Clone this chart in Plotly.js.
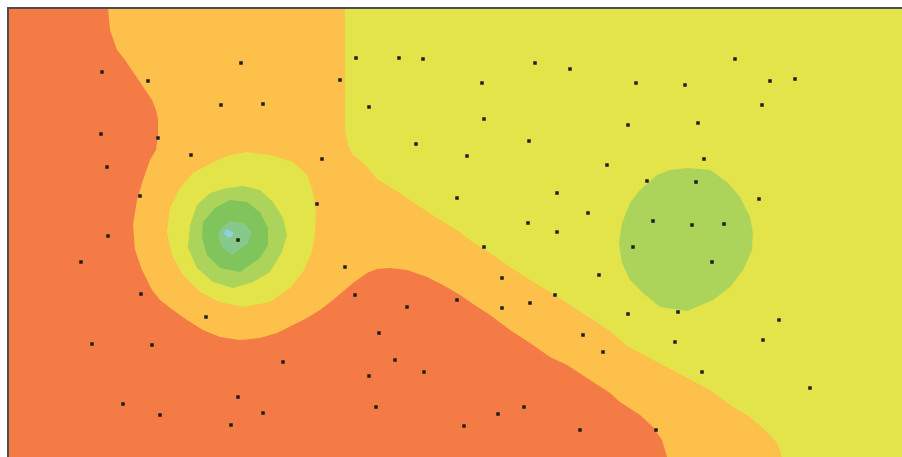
<!DOCTYPE html>
<html>
<head>
<meta charset="utf-8">
<script src="https://cdn.plot.ly/plotly-3.0.1.min.js"></script>
<style>html,body{margin:0;padding:0;background:#fff;}#chart{width:902px;height:457px;}</style>
</head>
<body>
<div id="chart"></div>
<script>
// Level colours of the filled contour bands (low -> high)
var levelColors = ['#f47a46', '#fdc04b', '#e3e449', '#acd35a', '#80c45c', '#87c98d', '#92cfe0'];

// Band boundaries (x, y in plot units; y grows downward)
var level0X = [8,108,110,117,125,135,145,152,156,158,158,156,150,143,137,133,135,142,152,160,173,187,203,220,240,260,277,293,307,320,333,353,367,377,390,407,427,443,460,470,490,510,530,550,567,590,610,620,640,653,662,667,8];
var level0Y = [8,8,30,50,60,75,90,100,110,120,135,150,160,180,200,225,250,270,290,300,310,320,330,337,340,338,333,325,318,310,300,283,273,269,268,270,277,285,295,302,315,330,343,357,365,380,393,402,415,427,440,457,457];

var level2X = [345,902,902,782,777,767,750,733,710,687,667,645,627,610,590,570,550,530,510,490,470,460,440,420,400,385,376,370,362,353,348,345];
var level2Y = [8,8,457,457,443,432,417,407,390,378,367,356,346,331,318,305,292,280,267,253,240,232,220,207,193,184,178,170,162,155,145,130];

var peakRing2X = [247,270,293,307,313,316,315,312,303,290,270,243,220,200,183,172,167,170,180,193,213,230];
var peakRing2Y = [152,155,162,175,192,212,232,252,272,288,302,307,302,292,275,255,232,208,188,173,162,155];

var peakRing3X = [227,243,260,273,283,287,282,270,253,233,213,197,188,190,197,210];
var peakRing3Y = [188,186,190,202,218,235,252,272,282,288,282,268,248,225,205,193];

var peakRing4X = [230,247,260,268,268,260,240,220,207,202,203,215];
var peakRing4Y = [200,202,212,228,245,258,272,268,255,238,222,208];

var peakRing5X = [230,243,252,248,232,222,218,222];
var peakRing5Y = [221,223,232,243,255,247,235,227];

var peakRing6X = [226,234,230,224];
var peakRing6Y = [229,233,238,234];

var bumpRing3X = [688,710,727,740,750,753,752,743,730,713,687,660,643,630,622,619,622,630,640,657,670];
var bumpRing3Y = [168,170,182,197,217,233,250,270,287,300,311,307,293,280,263,243,223,203,190,175,170];

// Sample points
var pointX = [102,148,241,221,263,101,158,191,356,399,423,535,570,340,482,369,484,416,529,467,322,
  735,636,685,770,795,762,628,698,704,107,140,238,108,81,141,607,457,317,557,588,528,557,484,599,
  345,502,355,457,530,555,407,502,647,696,759,653,692,724,633,712,206,92,152,283,123,160,238,263,
  231,379,583,603,395,424,369,376,524,498,464,580,628,678,779,763,675,702,810,656];
var pointY = [72,81,63,105,104,134,138,155,58,58,59,63,69,80,83,107,119,144,141,156,159,
  59,83,85,81,79,105,125,123,159,167,196,240,236,262,294,165,198,204,193,213,223,232,247,275,
  267,278,295,300,303,295,307,308,181,182,199,221,225,224,247,262,317,344,345,362,404,415,397,413,
  425,333,335,352,360,372,376,407,407,414,426,430,314,312,320,340,342,372,388,430];

var traces = [];
function band(xs, ys, lvl) {
  traces.push({type:'scatter', mode:'lines', x:xs, y:ys, fill:'toself',
    fillcolor: levelColors[lvl], line:{width:0, color: levelColors[lvl]},
    hoverinfo:'skip', showlegend:false});
}
band([8,902,902,8], [8,8,457,457], 1);
band(level0X, level0Y, 0);
band(level2X, level2Y, 2);
band(peakRing2X, peakRing2Y, 2);
band(peakRing3X, peakRing3Y, 3);
band(peakRing4X, peakRing4Y, 4);
band(peakRing5X, peakRing5Y, 5);
band(peakRing6X, peakRing6Y, 6);
band(bumpRing3X, bumpRing3Y, 3);

traces.push({type:'scatter', mode:'markers', x:pointX, y:pointY,
  marker:{symbol:'square', size:3.5, color:'#1e1e1e'}, hoverinfo:'skip', showlegend:false});

var layout = {
  width: 902, height: 457,
  margin: {l:9, r:0, t:9, b:0, pad:0},
  paper_bgcolor: '#ffffff', plot_bgcolor: levelColors[1],
  showlegend: false,
  xaxis: {range:[9,902], side:'top', showline:true, linecolor:'#4d4d4d', linewidth:1.6,
    showgrid:false, zeroline:false, showticklabels:false, ticks:'', fixedrange:true},
  yaxis: {range:[457,9], showline:true, linecolor:'#4d4d4d', linewidth:1.6,
    showgrid:false, zeroline:false, showticklabels:false, ticks:'', fixedrange:true}
};
Plotly.newPlot('chart', traces, layout, {staticPlot:true, displayModeBar:false});
</script>
</body>
</html>
